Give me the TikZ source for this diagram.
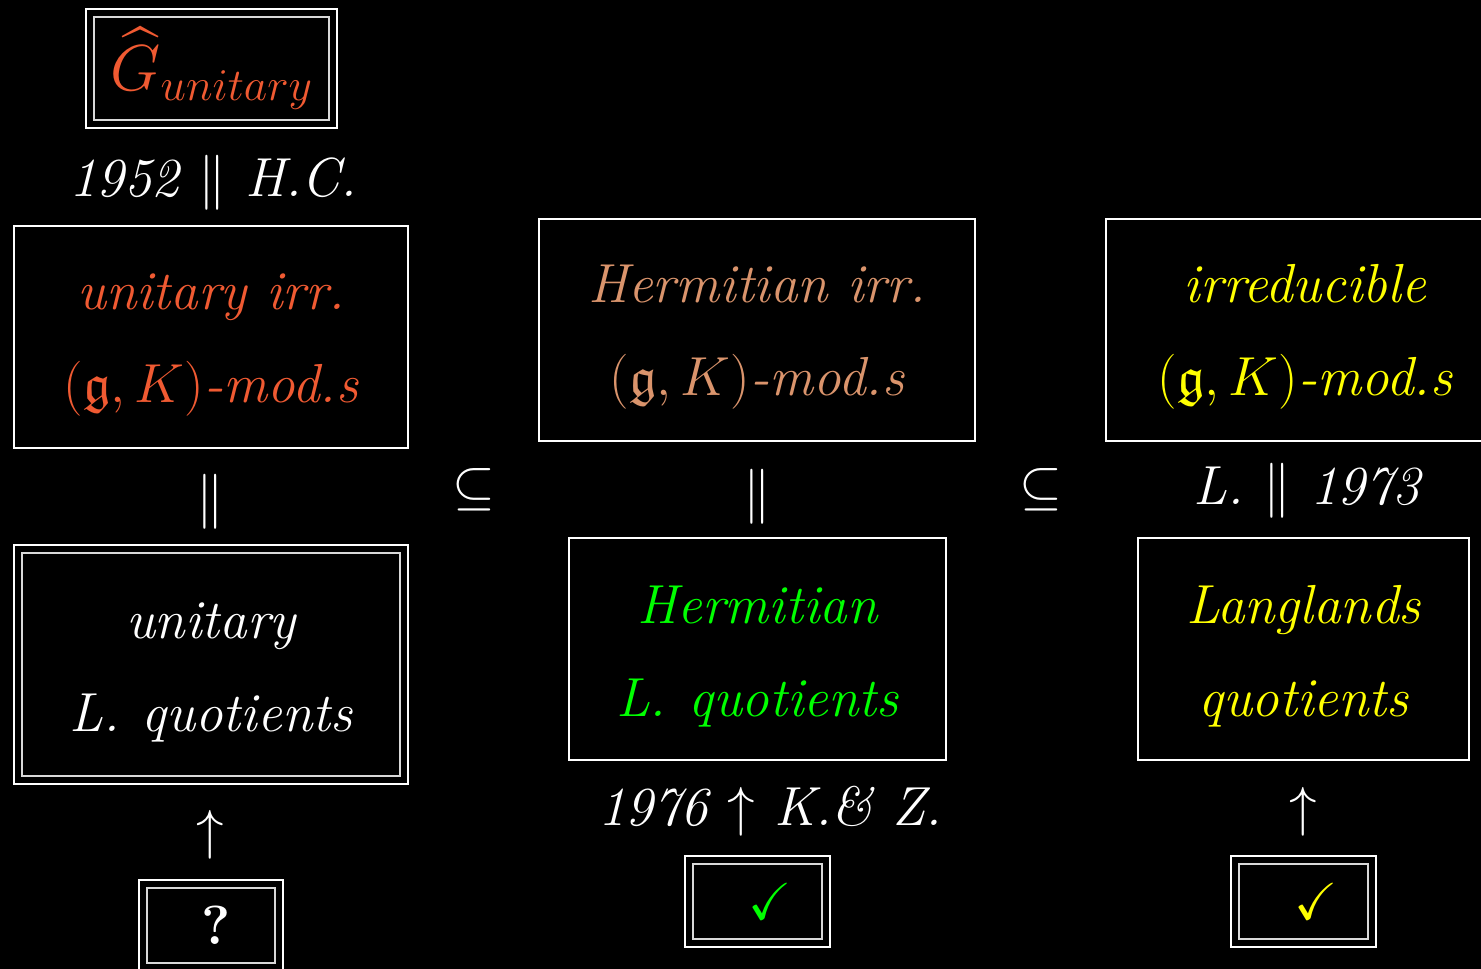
\RequirePackage{fix-cm}
\documentclass[tikz,border=0pt]{standalone}
\usepackage{amssymb}

\definecolor{unitred}{RGB}{240,90,50}
\definecolor{hermtan}{RGB}{218,148,108}
\definecolor{hermgreen}{RGB}{0,255,0}
\definecolor{langyellow}{RGB}{255,255,0}

\tikzset{
  every node/.style={text=white, inner sep=0pt,
    font=\fontsize{55}{93}\selectfont\itshape},
  frame/.style={draw=white, line width=2pt, align=center, text height=145pt},
  dframe/.style={draw=white, line width=2.8pt, align=center,
    path picture={\draw[white!85!black, line width=1.8pt]
      ([shift={(8pt,8pt)}]path picture bounding box.south west) rectangle
      ([shift={(-8pt,-8pt)}]path picture bounding box.north east);}},
  checkbox/.style={dframe, minimum width=145pt, minimum height=91pt},
}

\begin{document}
\begin{tikzpicture}[x=1pt, y=-1pt]
  \clip (0,0) rectangle (1481,969);
  \fill[black] (0,0) rectangle (1481,969);

  % left column: unitary dual
  \node[dframe, minimum width=251pt, minimum height=119pt, text=unitred,
        font=\fontsize{65}{80}\selectfont]
    (ghat) at (211.5,68.5) {$\widehat{G}_{unitary}$};
  \node (hc) at (213,183) {1952 $\|$ H.C.};
  \node[frame, minimum width=394pt, minimum height=222pt, text=unitred]
    (uirr) at (211,337) {unitary irr.\\$(\mathfrak{g},K)$-mod.s};
  \node (eqa) at (210,502) {$\|$};
  \node[dframe, text height=145pt, minimum width=394pt, minimum height=239pt]
    (ulq) at (211,664.5) {unitary\\L.\hspace{0.4em}quotients};
  \node (upa) at (210,835) {$\uparrow$};
  \node[checkbox, minimum width=144pt]
    (qbox) at (211,925.5) {\hspace*{10pt}\upshape\bfseries ?};

  \node (suba) at (474,490) {$\subseteq$};

  % middle column: Hermitian modules
  \node[frame, minimum width=436pt, minimum height=222pt, text=hermtan]
    (hirr) at (757,330) {Hermitian irr.\\$(\mathfrak{g},K)$-mod.s};
  \node (eqb) at (757,497) {$\|$};
  \node[frame, minimum width=377pt, minimum height=222pt, text=hermgreen]
    (hlq) at (757.5,649) {Hermitian\\L.\hspace{0.4em}quotients};
  \node (kz) at (770,811) {1976 $\uparrow$ K.\& Z.};
  \node[checkbox, text=hermgreen]
    (chkg) at (757.5,901.5) {\hspace*{25pt}{\fontsize{52}{60}\selectfont$\checkmark$}};

  \node (subb) at (1041,490) {$\subseteq$};

  % right column: all irreducible modules
  \node[frame, minimum width=398pt, minimum height=222pt, text=langyellow]
    (irr) at (1305,330) {irreducible\\$(\mathfrak{g},K)$-mod.s};
  \node (l73) at (1307,491) {L. $\|$ 1973};
  \node[frame, minimum width=331pt, minimum height=222pt, text=langyellow]
    (llq) at (1303.5,649) {Langlands\\quotients};
  \node (upc) at (1303,812) {$\uparrow$};
  \node[checkbox, text=langyellow]
    (chky) at (1303.5,901.5) {\hspace*{25pt}{\fontsize{52}{60}\selectfont$\checkmark$}};
\end{tikzpicture}
\end{document}
